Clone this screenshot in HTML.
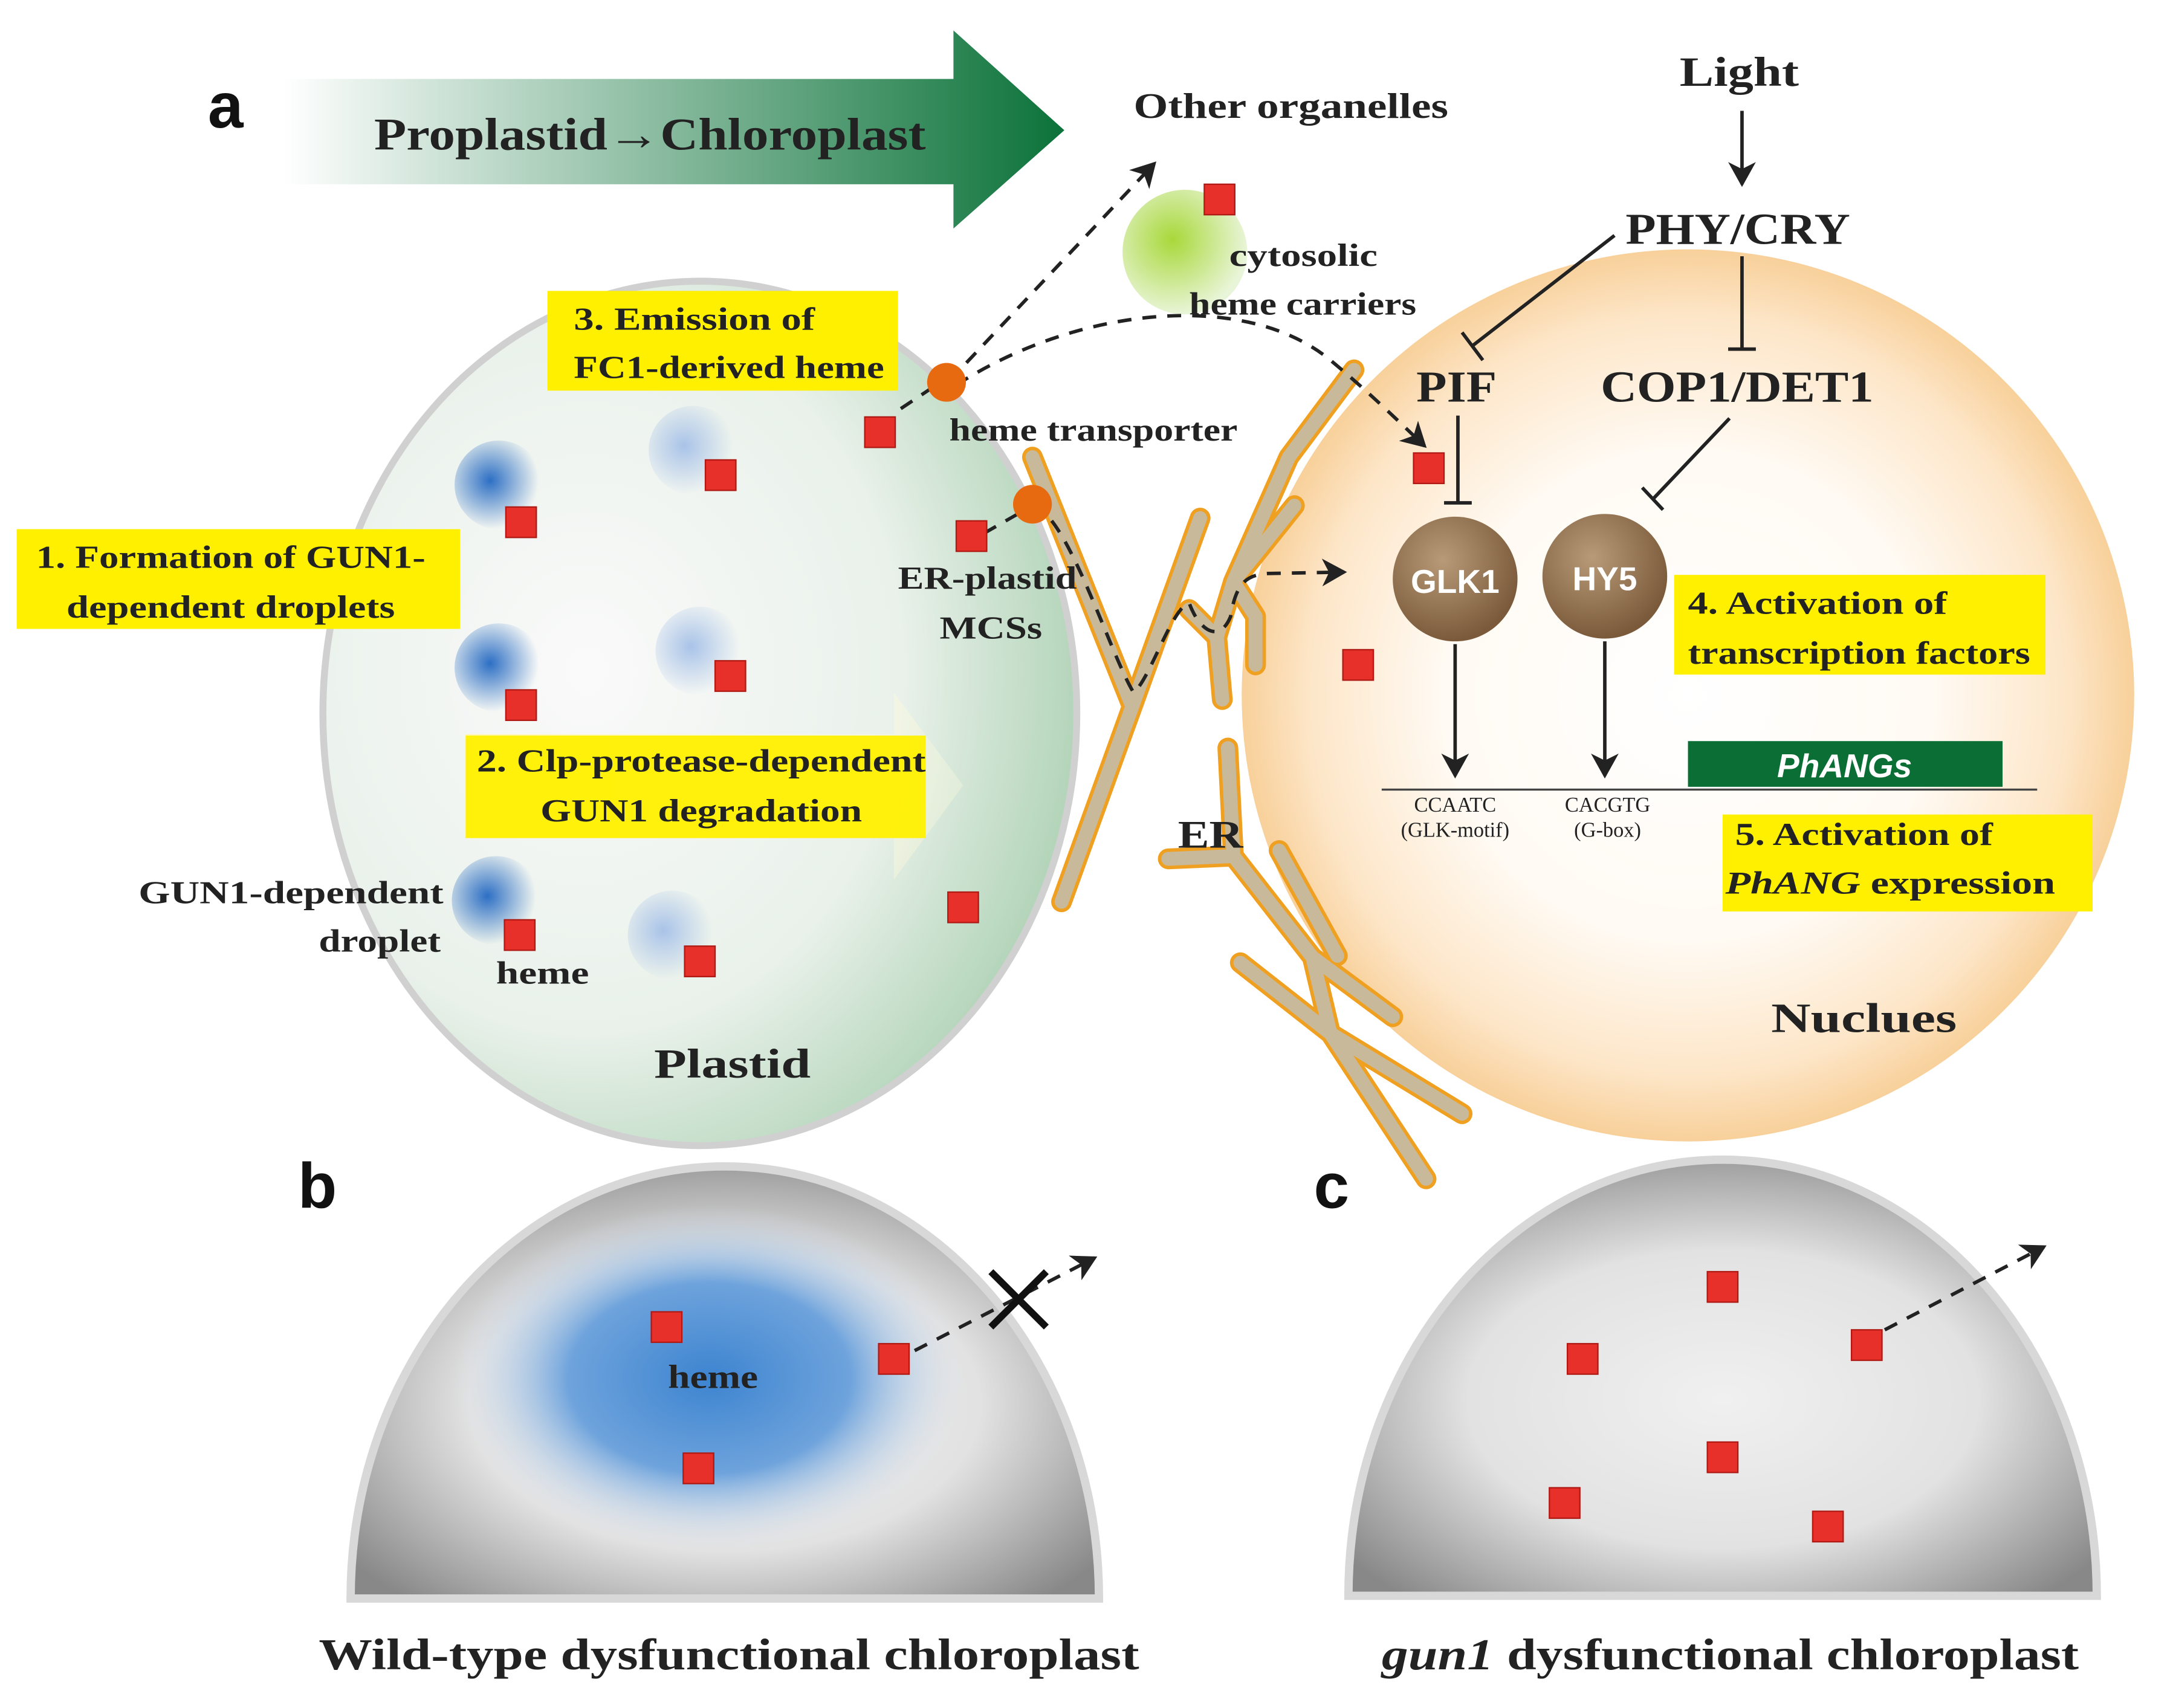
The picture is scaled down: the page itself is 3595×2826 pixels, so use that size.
<!DOCTYPE html>
<html><head><meta charset="utf-8"><style>
html,body{margin:0;padding:0;background:#fff}
svg{display:block}
.s{font-family:"Liberation Serif",serif;font-weight:bold;fill:#222}
</style></head><body>
<svg width="3595" height="2826" viewBox="0 0 1568 1233" preserveAspectRatio="none" xmlns="http://www.w3.org/2000/svg">
<defs>
<linearGradient id="ga" x1="0" x2="1"><stop offset="0" stop-color="#fff"/><stop offset="1" stop-color="#0b7239"/></linearGradient>
<radialGradient id="gp" cx="0.35" cy="0.45" r="0.7"><stop offset="0" stop-color="#fafafa"/><stop offset="0.6" stop-color="#e9f1ea"/><stop offset="1" stop-color="#a9cfb0"/></radialGradient>
<radialGradient id="gn" cx="0.5" cy="0.5" r="0.5"><stop offset="0" stop-color="#fff"/><stop offset="0.55" stop-color="#fffaf3"/><stop offset="0.85" stop-color="#fde6c8"/><stop offset="1" stop-color="#f8d09a"/></radialGradient>
<radialGradient id="gg" cx="0.4" cy="0.4" r="0.6"><stop offset="0" stop-color="#a8d83a"/><stop offset="1" stop-color="#e9f5d8"/></radialGradient>
<radialGradient id="gd" cx="0.4" cy="0.45" r="0.55"><stop offset="0" stop-color="#2d6fc4"/><stop offset="1" stop-color="#2d6fc4" stop-opacity="0"/></radialGradient>
<radialGradient id="gl" cx="0.4" cy="0.45" r="0.55"><stop offset="0" stop-color="#a9c3e8"/><stop offset="1" stop-color="#a9c3e8" stop-opacity="0"/></radialGradient>
<radialGradient id="gb" cx="0.5" cy="0.55" r="0.62"><stop offset="0" stop-color="#f0f0f0"/><stop offset="0.55" stop-color="#e2e2e2"/><stop offset="1" stop-color="#888"/></radialGradient>
<radialGradient id="gbb" cx="0.5" cy="0.5" r="0.5"><stop offset="0" stop-color="#3d84d0"/><stop offset="0.55" stop-color="#6ea3dc"/><stop offset="1" stop-color="#dfe8f3" stop-opacity="0"/></radialGradient>
<radialGradient id="gt" cx="0.4" cy="0.35" r="0.65"><stop offset="0" stop-color="#b89a78"/><stop offset="1" stop-color="#7a5a3a"/></radialGradient>
<linearGradient id="gy" x1="0" x2="1"><stop offset="0" stop-color="#fff6b0"/><stop offset="1" stop-color="#fffbe0" stop-opacity="0.3"/></linearGradient>
<marker id="ar2" markerWidth="20" markerHeight="20" refX="16" refY="10" orient="auto" markerUnits="userSpaceOnUse"><path d="M0,0 L18,10 L0,20 L5,10z" fill="#222"/></marker>
</defs>
<rect width="1568" height="1233" fill="#fff"/>

<text x="150" y="92" font-family="Liberation Sans,sans-serif" font-weight="bold" font-size="46" fill="#111">a</text>
<path d="M205,57 L688,57 L688,22 L768,94 L688,165 L688,133 L205,133z" fill="url(#ga)"/>
<text x="270" y="108" class="s" font-size="33" textLength="398" lengthAdjust="spacingAndGlyphs">Proplastid→Chloroplast</text>
<text x="818" y="85" class="s" font-size="26" textLength="227" lengthAdjust="spacingAndGlyphs">Other organelles</text>

<circle cx="1218" cy="502" r="322" fill="url(#gn)"/>
<ellipse cx="505" cy="515" rx="272" ry="312" fill="url(#gp)" stroke="#d0d0d0" stroke-width="5"/>

<g>
<circle cx="360" cy="350" r="32" fill="url(#gd)"/><circle cx="360" cy="482" r="32" fill="url(#gd)"/><circle cx="358" cy="650" r="32" fill="url(#gd)"/>
<circle cx="500" cy="325" r="32" fill="url(#gl)"/><circle cx="505" cy="470" r="32" fill="url(#gl)"/><circle cx="485" cy="675" r="32" fill="url(#gl)"/>
</g>
<path d="M336,530 L645,530 L645,500 L695,567 L645,635 L645,605 L336,605z" fill="url(#gy)"/>

<circle cx="855" cy="182" r="45" fill="url(#gg)"/>
<text x="887" y="192" class="s" font-size="23" textLength="107" lengthAdjust="spacingAndGlyphs">cytosolic</text>
<text x="858" y="227" class="s" font-size="23" textLength="164" lengthAdjust="spacingAndGlyphs">heme carriers</text>

<!-- ER -->
<g fill="none" stroke-linecap="round" stroke-linejoin="round">
<g stroke="#f0a020" stroke-width="15">
<path d="M745,330 L817,510 L766,651 M817,510 L866,374"/>
<path d="M882,505 L878,460 L890,420 L930,330 L977,267 M890,420 L906,445 L906,480 M878,460 L858,440 M890,420 L934,365"/>
<path d="M886,540 L890,618 L947,691 L1005,734 M843,620 L890,618 M923,614 L965,690 M895,695 L960,746 L1055,804 M960,746 L1029,851 M947,691 L960,746"/>
</g>
<g stroke="#c8b99a" stroke-width="10">
<path d="M745,330 L817,510 L766,651 M817,510 L866,374"/>
<path d="M882,505 L878,460 L890,420 L930,330 L977,267 M890,420 L906,445 L906,480 M878,460 L858,440 M890,420 L934,365"/>
<path d="M886,540 L890,618 L947,691 L1005,734 M843,620 L890,618 M923,614 L965,690 M895,695 L960,746 L1055,804 M960,746 L1029,851 M947,691 L960,746"/>
</g>
</g>
<text x="850" y="612" class="s" font-size="28" textLength="47" lengthAdjust="spacingAndGlyphs">ER</text>

<g stroke="#222" stroke-width="2.5" fill="none" stroke-dasharray="10,8">
<path d="M685,275 L833,118" marker-end="url(#ar2)"/>
<path d="M690,278 C780,220 900,210 960,260 C990,285 1010,305 1028,322" marker-end="url(#ar2)"/>
<path d="M650,295 L680,275"/>
<path d="M710,385 L745,365"/>
<path d="M745,365 C770,370 800,470 818,500 C830,490 845,440 858,435 C865,455 880,465 888,445 C892,420 900,415 915,414 L970,413" marker-end="url(#ar2)"/>
</g>
<circle cx="683" cy="276" r="14" fill="#e86a10"/>
<circle cx="745" cy="364" r="14" fill="#e86a10"/>
<text x="685" y="318" class="s" font-size="23" textLength="208" lengthAdjust="spacingAndGlyphs">heme transporter</text>
<text x="648" y="425" class="s" font-size="23" textLength="129" lengthAdjust="spacingAndGlyphs">ER-plastid</text>
<text x="678" y="461" class="s" font-size="23" textLength="74" lengthAdjust="spacingAndGlyphs">MCSs</text>

<text x="100" y="652" class="s" font-size="23" textLength="220" lengthAdjust="spacingAndGlyphs">GUN1-dependent</text>
<text x="230" y="687" class="s" font-size="23" textLength="88" lengthAdjust="spacingAndGlyphs">droplet</text>
<text x="358" y="710" class="s" font-size="23" textLength="67" lengthAdjust="spacingAndGlyphs">heme</text>
<text x="472" y="778" class="s" font-size="30" textLength="113" lengthAdjust="spacingAndGlyphs">Plastid</text>

<rect x="395" y="210" width="253" height="72" fill="#fff000"/>
<text x="414" y="238" class="s" font-size="23" textLength="174" lengthAdjust="spacingAndGlyphs">3. Emission of</text>
<text x="414" y="273" class="s" font-size="23" textLength="224" lengthAdjust="spacingAndGlyphs">FC1-derived heme</text>
<rect x="12" y="382" width="320" height="72" fill="#fff000"/>
<text x="26" y="410" class="s" font-size="23" textLength="281" lengthAdjust="spacingAndGlyphs">1. Formation of GUN1-</text>
<text x="48" y="446" class="s" font-size="23" textLength="237" lengthAdjust="spacingAndGlyphs">dependent droplets</text>
<rect x="336" y="531" width="332" height="74" fill="#fff000" opacity="0.95"/>
<text x="344" y="557" class="s" font-size="23" textLength="324" lengthAdjust="spacingAndGlyphs">2. Clp-protease-dependent</text>
<text x="390" y="593" class="s" font-size="23" textLength="232" lengthAdjust="spacingAndGlyphs">GUN1 degradation</text>
<rect x="1208" y="415" width="268" height="72" fill="#fff000"/>
<text x="1218" y="443" class="s" font-size="23" textLength="187" lengthAdjust="spacingAndGlyphs">4. Activation of</text>
<text x="1218" y="479" class="s" font-size="23" textLength="247" lengthAdjust="spacingAndGlyphs">transcription factors</text>
<rect x="1243" y="588" width="267" height="70" fill="#fff000"/>
<text x="1252" y="610" class="s" font-size="23" textLength="186" lengthAdjust="spacingAndGlyphs">5. Activation of</text>
<text x="1245" y="645" class="s" font-size="23" textLength="238" lengthAdjust="spacingAndGlyphs"><tspan font-style="italic">PhANG</tspan> expression</text>

<text x="1212" y="62" class="s" font-size="30" textLength="86" lengthAdjust="spacingAndGlyphs">Light</text>
<line x1="1257" y1="80" x2="1257" y2="133" stroke="#222" stroke-width="2.5" marker-end="url(#ar2)"/>
<text x="1173" y="176" class="s" font-size="32" textLength="162" lengthAdjust="spacingAndGlyphs">PHY/CRY</text>
<line x1="1165" y1="170" x2="1062" y2="250" stroke="#222" stroke-width="2.5"/>
<line x1="1055" y1="240" x2="1070" y2="260" stroke="#222" stroke-width="2.5"/>
<line x1="1257" y1="185" x2="1257" y2="252" stroke="#222" stroke-width="2.5"/>
<line x1="1247" y1="252" x2="1267" y2="252" stroke="#222" stroke-width="2.5"/>
<text x="1022" y="290" class="s" font-size="32" textLength="58" lengthAdjust="spacingAndGlyphs">PIF</text>
<text x="1155" y="290" class="s" font-size="32" textLength="197" lengthAdjust="spacingAndGlyphs">COP1/DET1</text>
<line x1="1052" y1="300" x2="1052" y2="363" stroke="#222" stroke-width="2.5"/>
<line x1="1042" y1="363" x2="1062" y2="363" stroke="#222" stroke-width="2.5"/>
<line x1="1248" y1="302" x2="1193" y2="360" stroke="#222" stroke-width="2.5"/>
<line x1="1185" y1="352" x2="1200" y2="368" stroke="#222" stroke-width="2.5"/>
<circle cx="1050" cy="418" r="45" fill="url(#gt)"/>
<circle cx="1158" cy="416" r="45" fill="url(#gt)"/>
<text x="1050" y="428" text-anchor="middle" font-family="Liberation Sans,sans-serif" font-weight="bold" font-size="24" fill="#fff">GLK1</text>
<text x="1158" y="426" text-anchor="middle" font-family="Liberation Sans,sans-serif" font-weight="bold" font-size="24" fill="#fff">HY5</text>
<line x1="1050" y1="465" x2="1050" y2="560" stroke="#222" stroke-width="2.5" marker-end="url(#ar2)"/>
<line x1="1158" y1="463" x2="1158" y2="560" stroke="#222" stroke-width="2.5" marker-end="url(#ar2)"/>
<rect x="1218" y="535" width="227" height="33" fill="#0b6e35"/>
<text x="1331" y="561" text-anchor="middle" font-family="Liberation Sans,sans-serif" font-weight="bold" font-style="italic" font-size="24" fill="#fff">PhANGs</text>
<line x1="997" y1="570" x2="1470" y2="570" stroke="#444" stroke-width="1.5"/>
<text x="1050" y="586" text-anchor="middle" font-family="Liberation Serif,serif" font-size="15" fill="#222">CCAATC</text>
<text x="1050" y="604" text-anchor="middle" font-family="Liberation Serif,serif" font-size="15" fill="#222">(GLK-motif)</text>
<text x="1160" y="586" text-anchor="middle" font-family="Liberation Serif,serif" font-size="15" fill="#222">CACGTG</text>
<text x="1160" y="604" text-anchor="middle" font-family="Liberation Serif,serif" font-size="15" fill="#222">(G-box)</text>
<text x="1278" y="745" class="s" font-size="30" textLength="134" lengthAdjust="spacingAndGlyphs">Nuclues</text>

<text x="215" y="872" font-family="Liberation Sans,sans-serif" font-weight="bold" font-size="46" fill="#111">b</text>
<text x="948" y="872" font-family="Liberation Sans,sans-serif" font-weight="bold" font-size="46" fill="#111">c</text>
<path d="M253,1154 A270,312 0 0 1 793,1154z" fill="url(#gb)" stroke="#d8d8d8" stroke-width="6"/>
<ellipse cx="512" cy="995" rx="185" ry="125" fill="url(#gbb)"/>
<path d="M973,1152 A270,315 0 0 1 1513,1152z" fill="url(#gb)" stroke="#d8d8d8" stroke-width="6"/>
<text x="482" y="1002" class="s" font-size="24" textLength="65" lengthAdjust="spacingAndGlyphs">heme</text>
<g stroke="#222" stroke-width="2.5" fill="none" stroke-dasharray="10,8">
<path d="M660,975 L790,908" marker-end="url(#ar2)"/>
<path d="M1360,960 L1475,900" marker-end="url(#ar2)"/>
</g>
<path d="M715,918 L755,958 M755,918 L715,958" stroke="#111" stroke-width="5"/>
<text x="230" y="1205" class="s" font-size="32" textLength="592" lengthAdjust="spacingAndGlyphs">Wild-type dysfunctional chloroplast</text>
<text x="997" y="1205" class="s" font-size="32" textLength="503" lengthAdjust="spacingAndGlyphs"><tspan font-style="italic">gun1</tspan> dysfunctional chloroplast</text>

<g fill="#e8302a" stroke="#b01a14" stroke-width="1">
<rect x="869" y="133" width="22" height="22"/>
<rect x="624" y="301" width="22" height="22"/>
<rect x="509" y="332" width="22" height="22"/>
<rect x="365" y="366" width="22" height="22"/>
<rect x="690" y="376" width="22" height="22"/>
<rect x="1020" y="327" width="22" height="22"/>
<rect x="969" y="469" width="22" height="22"/>
<rect x="516" y="477" width="22" height="22"/>
<rect x="365" y="498" width="22" height="22"/>
<rect x="684" y="644" width="22" height="22"/>
<rect x="364" y="664" width="22" height="22"/>
<rect x="494" y="683" width="22" height="22"/>
<rect x="470" y="947" width="22" height="22"/>
<rect x="634" y="970" width="22" height="22"/>
<rect x="493" y="1049" width="22" height="22"/>
<rect x="1232" y="918" width="22" height="22"/>
<rect x="1336" y="960" width="22" height="22"/>
<rect x="1131" y="970" width="22" height="22"/>
<rect x="1232" y="1041" width="22" height="22"/>
<rect x="1118" y="1074" width="22" height="22"/>
<rect x="1308" y="1091" width="22" height="22"/>
</g>
</svg>
</body></html>
